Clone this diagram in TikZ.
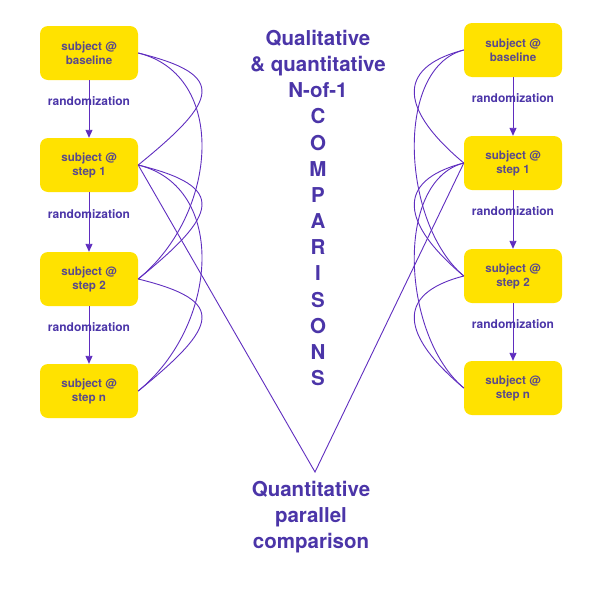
\documentclass[tikz,border=0pt]{standalone}
\usepackage{fontspec}
\setmainfont{TeX Gyre Heros}
\usetikzlibrary{arrows.meta}
\definecolor{boxyellow}{HTML}{FFE200}
\definecolor{boxtext}{HTML}{5A4A8C}
\definecolor{labeltext}{HTML}{4B35A8}
\definecolor{linepurple}{HTML}{5F2DBF}
\tikzset{
  subj/.style={fill=boxyellow, rounded corners=8pt, minimum width=98pt,
    minimum height=54pt, inner sep=0pt, align=center, text=boxtext,
    font=\bfseries\fontsize{11.6}{14}\selectfont},
  rnd/.style={text=labeltext, font=\bfseries\fontsize{12}{14}\selectfont},
  big/.style={text=labeltext, align=center,
    font=\bfseries\fontsize{20.5}{26.15}\selectfont},
  link/.style={draw=linepurple, line width=0.9pt},
}
\begin{document}
\begin{tikzpicture}[x=1pt,y=-1pt]
  \useasboundingbox (0,0) rectangle (600,600);

  % left subject
  \node[subj] (l0) at (89,53) {subject @\\baseline};
  \node[subj] (l1) at (89,165) {subject @\\step 1};
  \node[subj] (l2) at (89,279) {subject @\\step 2};
  \node[subj] (l3) at (89,391) {subject @\\step n};

  % right subject
  \node[subj] (r0) at (513,50) {subject @\\baseline};
  \node[subj] (r1) at (513,163) {subject @\\step 1};
  \node[subj] (r2) at (513,276) {subject @\\step 2};
  \node[subj] (r3) at (513,388) {subject @\\step n};

  \foreach \a/\b in {l0/l1,l1/l2,l2/l3,r0/r1,r1/r2,r2/r3}
  \draw[link,-{Triangle[length=8pt,width=7pt]}] (\a) -- node[rnd,pos=0.36] {randomization} (\b);

  % N-of-1 comparisons
  \foreach \a/\b in {l0/l1,l0/l2,l1/l2,l1/l3,l2/l3}
  \draw[link] (\a.east) .. controls +(90,22) and +(80,-65) .. (\b.east);
  \foreach \a/\b in {r0/r1,r0/r2,r1/r2,r1/r3,r2/r3}
  \draw[link] (\a.west) .. controls +(-70,18) and +(-62,-52) .. (\b.west);

  \node[big] (qual) at (318,208) {Qualitative\\\& quantitative\\N-of-1\\C\\O\\M\\P\\A\\R\\I\\S\\O\\N\\S};

  % parallel comparison
  \coordinate (v) at (315,472);
  \draw[link] (l1.east) -- (v) -- (r1.west);
  \node[big] (par) at (311,517) {Quantitative\\parallel\\comparison};
\end{tikzpicture}
\end{document}
